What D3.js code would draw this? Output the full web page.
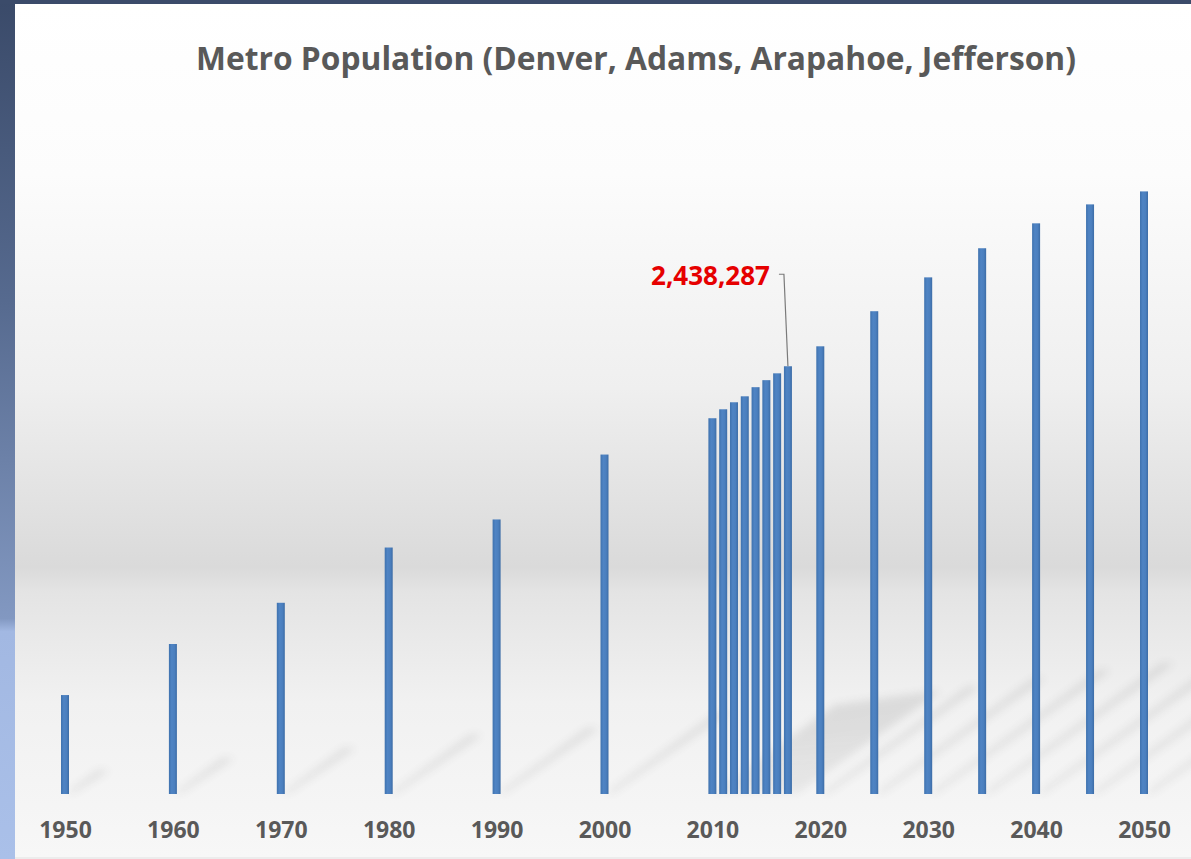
<!DOCTYPE html>
<html>
<head>
<meta charset="utf-8">
<script src="https://cdn.jsdelivr.net/npm/d3@7"></script>
<style>
  body { margin: 0; background: #ffffff; }
  svg { display: block; }
</style>
</head>
<body>
<div id="chart"></div>
<script>
// data
var years = [1950, 1960, 1970, 1980, 1990, 2000,
             2010, 2011, 2012, 2013, 2014, 2015, 2016, 2017,
             2020, 2025, 2030, 2035, 2040, 2045, 2050];
var population = [564000, 855000, 1090000, 1405000, 1565000, 1935000,
                  2142000, 2193000, 2233000, 2267000, 2319000, 2359000, 2398000, 2438287,
                  2552000, 2752000, 2945000, 3111000, 3253000, 3361000, 3435000];
var tickYears = [1950, 1960, 1970, 1980, 1990, 2000, 2010, 2020, 2030, 2040, 2050];
var calloutYear = 2017;
var calloutText = "2,438,287";
var title = "Metro Population (Denver, Adams, Arapahoe, Jefferson)";

var data = years.map(function (d, i) { return { year: d, value: population[i] }; });

var W = 1191, H = 859;
var margin = { top: 180, bottom: 65, left: 65, right: 47 };
var barW = 8;

var svg = d3.select("#chart")
    .append("svg")
    .attr("width", W)
    .attr("height", H);

var defs = svg.append("defs");

// panel background gradient
var bg = defs.append("linearGradient")
    .attr("id", "panelBg")
    .attr("x1", 0).attr("y1", 0).attr("x2", 0).attr("y2", 1);
[[0, "#ffffff"], [0.2, "#fcfcfc"], [0.45, "#efefef"], [0.66, "#dadada"],
 [0.69, "#e4e4e4"], [0.82, "#f1f1f1"], [1, "#f7f7f7"]].forEach(function (s) {
    bg.append("stop").attr("offset", s[0]).attr("stop-color", s[1]);
});

// left frame gradient
var side = defs.append("linearGradient")
    .attr("id", "sideBg")
    .attr("x1", 0).attr("y1", 0).attr("x2", 0).attr("y2", 1);
[[0, "#3a4a69"], [0.35, "#566a8f"], [0.72, "#8298c1"], [0.735, "#a2b8e2"], [1, "#aac0e9"]].forEach(function (s) {
    side.append("stop").attr("offset", s[0]).attr("stop-color", s[1]);
});

// bar gradient (slightly darker edges)
var barG = defs.append("linearGradient")
    .attr("id", "barFill")
    .attr("x1", 0).attr("y1", 0).attr("x2", 1).attr("y2", 0);
[[0, "#3f72ae"], [0.35, "#4f84c4"], [0.7, "#4b7fbe"], [1, "#3c6ca6"]].forEach(function (s) {
    barG.append("stop").attr("offset", s[0]).attr("stop-color", s[1]);
});

defs.append("filter")
    .attr("id", "blur")
    .attr("x", "-50%").attr("y", "-50%").attr("width", "200%").attr("height", "200%")
    .append("feGaussianBlur")
    .attr("stdDeviation", 4);

// frame
svg.append("rect").attr("x", 0).attr("y", 0).attr("width", W).attr("height", H).attr("fill", "#ececec");
svg.append("rect").attr("x", 15).attr("y", 4).attr("width", W - 15).attr("height", 853).attr("fill", "url(#panelBg)");
svg.append("rect").attr("x", 0).attr("y", 0).attr("width", 15).attr("height", H).attr("fill", "url(#sideBg)");
svg.append("rect").attr("x", 0).attr("y", 0).attr("width", W).attr("height", 4).attr("fill", "#3b4b6a");

// scales
var x = d3.scaleLinear()
    .domain([1950, 2050])
    .range([margin.left, W - margin.right]);
var y = d3.scaleLinear()
    .domain([0, 3500000])
    .range([H - margin.bottom, margin.top]);
var base = y(0);

// soft shadows cast by bars
svg.append("g")
    .attr("filter", "url(#blur)")
    .attr("opacity", 0.12)
    .selectAll("polygon")
    .data(data)
    .enter()
    .append("polygon")
    .attr("fill", "#404040")
    .attr("points", function (d) {
        var h = base - y(d.value);
        var cx = x(d.year) + barW / 2;
        var dx = h * 0.33, dy = h * 0.24;
        return [[cx - 2, base - 1], [cx + 4, base - 1],
                [cx + dx + 8, base - dy], [cx + dx - 4, base - dy]].join(" ");
    });

// bars
svg.append("g")
    .selectAll("rect")
    .data(data)
    .enter()
    .append("rect")
    .attr("x", function (d) { return x(d.year) - barW / 2; })
    .attr("width", barW)
    .attr("y", function (d) { return y(d.value); })
    .attr("height", function (d) { return base - y(d.value); })
    .attr("fill", "url(#barFill)");

// x axis labels
var xAxis = svg.append("g")
    .attr("transform", "translate(0," + base + ")")
    .call(d3.axisBottom(x).tickValues(tickYears).tickFormat(d3.format("d")).tickSize(0).tickPadding(28));
xAxis.select(".domain").remove();
xAxis.selectAll("text")
    .attr("fill", "#595959")
    .style("font-family", "'Open Sans', sans-serif")
    .style("font-weight", "bold")
    .style("font-size", "23px");

// title
svg.append("text")
    .attr("x", 636)
    .attr("y", 70)
    .attr("text-anchor", "middle")
    .attr("textLength", 880)
    .attr("lengthAdjust", "spacingAndGlyphs")
    .attr("fill", "#595959")
    .style("font-family", "'Open Sans', sans-serif")
    .style("font-weight", "bold")
    .style("font-size", "32px")
    .text(title);

// callout for the latest estimate
var cv = population[years.indexOf(calloutYear)];
var tipX = x(calloutYear), tipY = y(cv);
var lblY = tipY - 92;
svg.append("path")
    .attr("d", "M" + (tipX - 9) + "," + lblY + "H" + (tipX - 4) + "L" + tipX + "," + tipY)
    .attr("fill", "none")
    .attr("stroke", "#7a7a7a")
    .attr("stroke-width", 1.2);
svg.append("text")
    .attr("x", tipX - 18)
    .attr("y", lblY + 11)
    .attr("text-anchor", "end")
    .attr("fill", "#e60000")
    .style("font-family", "'Open Sans', sans-serif")
    .style("font-weight", "bold")
    .style("font-size", "26px")
    .text(calloutText);
</script>
</body>
</html>
